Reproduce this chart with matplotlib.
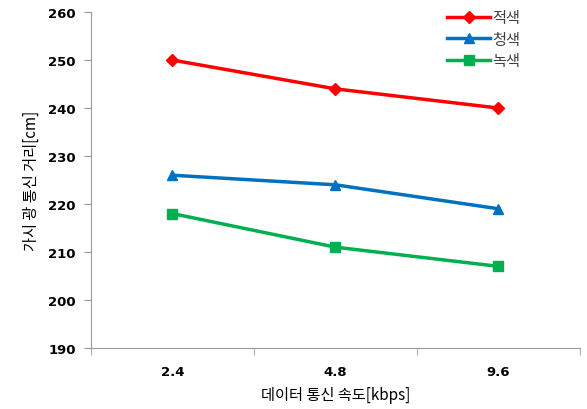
import matplotlib
matplotlib.use('Agg')
import matplotlib.pyplot as plt
import numpy as np

# data
speeds = ['2.4', '4.8', '9.6']
red = [250, 244, 240]
blue = [226, 224, 219]
green = [218, 211, 207]
series_names = ['적색', '청색', '녹색']
yticks = [190, 200, 210, 220, 230, 240, 250, 260]

plt.rcParams['font.family'] = ['Noto Sans CJK KR', 'DejaVu Sans']

fig = plt.figure(figsize=(5.87, 4.10), dpi=100)
ax = fig.add_axes([0.155, 0.149, 0.833, 0.819])

x = np.arange(len(speeds))
ax.plot(x, red, color='#ff0000', lw=2.5, marker='D', ms=6, label=series_names[0])
ax.plot(x, blue, color='#0070c0', lw=2.5, marker='^', ms=7, label=series_names[1])
ax.plot(x, green, color='#00b050', lw=2.5, marker='s', ms=7, label=series_names[2])

ax.set_xlim(-0.5, 2.5)
ax.set_ylim(190, 260)
ax.set_yticks(yticks)
ax.set_yticklabels([str(v) for v in yticks], family='DejaVu Sans', fontweight='bold', fontsize=9.5)
ax.set_xticks(x)
ax.set_xticklabels(speeds, family='DejaVu Sans', fontweight='bold', fontsize=9.5)
ax.tick_params(axis='x', length=0, pad=12)
ax.set_xticks([-0.5, 0.5, 1.5, 2.5], minor=True)
ax.tick_params(axis='x', which='minor', length=5, color='#999999', direction='out')
ax.tick_params(axis='y', length=5, color='#999999', direction='out', pad=6)

for s in ['top', 'right']:
    ax.spines[s].set_visible(False)
for s in ['left', 'bottom']:
    ax.spines[s].set_color('#999999')

ax.set_ylabel('가시 광 통신 거리[cm]', fontsize=11, labelpad=6)
ax.set_xlabel('데이터 통신 속도[kbps]', fontsize=11, labelpad=6)

leg = ax.legend(loc='upper right', bbox_to_anchor=(0.905, 1.05), frameon=False,
                fontsize=11, handlelength=2.8, handletextpad=0.1, labelspacing=0.3)
for t in leg.get_texts():
    t.set_color('#404040')

fig.savefig('out.png', dpi=100)
